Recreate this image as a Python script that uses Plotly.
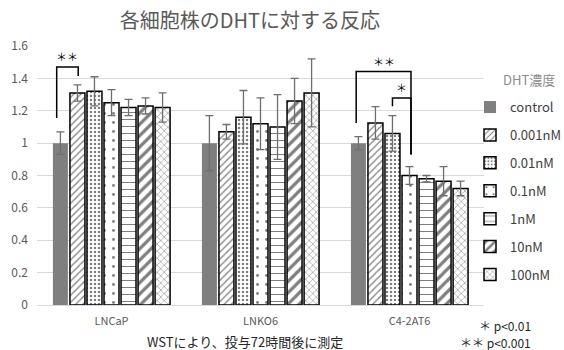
import plotly.graph_objects as go

cells = ["LNCaP", "LNKO6", "C4-2AT6"]
doses = ["control", "0.001nM", "0.01nM", "0.1nM", "1nM", "10nM", "100nM"]
values = {
    "control": [1.00, 1.00, 1.00],
    "0.001nM": [1.31, 1.07, 1.125],
    "0.01nM": [1.32, 1.16, 1.06],
    "0.1nM": [1.25, 1.12, 0.80],
    "1nM": [1.22, 1.10, 0.78],
    "10nM": [1.23, 1.26, 0.765],
    "100nM": [1.22, 1.31, 0.72],
}
errors = {
    "control": [0.07, 0.17, 0.04],
    "0.001nM": [0.05, 0.045, 0.10],
    "0.01nM": [0.09, 0.165, 0.11],
    "0.1nM": [0.08, 0.16, 0.055],
    "1nM": [0.05, 0.20, 0.02],
    "10nM": [0.05, 0.14, 0.09],
    "100nM": [0.09, 0.21, 0.045],
}
yticks = [0, 0.2, 0.4, 0.6, 0.8, 1.0, 1.2, 1.4, 1.6]
yticklabels = ["0", "0.2", "0.4", "0.6", "0.8", "1", "1.2", "1.4", "1.6"]

patterns = {
    "control": None,
    "0.001nM": dict(shape="/", size=5, solidity=0.25),
    "0.01nM": dict(shape=".", size=4, solidity=0.3),
    "0.1nM": dict(shape=".", size=9, solidity=0.08),
    "1nM": dict(shape="-", size=7, solidity=0.15),
    "10nM": dict(shape="/", size=8, solidity=0.4),
    "100nM": dict(shape="x", size=5, solidity=0.2),
}

FONT = "Noto Sans CJK JP"
xs = list(range(len(cells)))
fig = go.Figure()
for d in doses:
    p = patterns[d]
    if p is None:
        marker = dict(color="#7f7f7f", line=dict(color="#7f7f7f", width=0))
    else:
        marker = dict(color="white", line=dict(color="black", width=1.5),
                      pattern=dict(shape=p["shape"], size=p["size"], solidity=p["solidity"],
                                   fgcolor="black", bgcolor="white", fillmode="overlay"))
    fig.add_trace(go.Bar(
        x=xs, y=values[d], name=d, marker=marker, legendgroup=d,
        error_y=dict(type="data", array=errors[d], visible=True, color="#6e6e6e",
                     thickness=1.3, width=4),
    ))

ngroups = len(doses)
groupw = 0.8


def off(i):
    return -groupw / 2 + (i + 0.5) * groupw / ngroups


def bracket(x0, x1, ytop, y0, y1):
    fig.add_shape(type="path",
                  path=f"M {x0} {y0} L {x0} {ytop} L {x1} {ytop} L {x1} {y1}",
                  line=dict(color="black", width=1.5), xref="x", yref="y")


bracket(0 + off(0) - 0.025, 0 + off(1) + 0.005, 1.47, 1.155, 1.415)
bracket(2 + off(0) - 0.015, 2 + off(3) + 0.01, 1.442, 1.125, 0.93)
bracket(2 + off(2), 2 + off(3) + 0.01, 1.278, 1.228, 0.93)

star_font = dict(family=FONT, size=11, color="black")
fig.add_annotation(x=(off(0) + off(1)) / 2 - 0.01, y=1.475, text="＊＊", showarrow=False,
                   yanchor="bottom", font=star_font)
fig.add_annotation(x=2 + (off(0) + off(3)) / 2, y=1.447, text="＊＊", showarrow=False,
                   yanchor="bottom", font=star_font)
fig.add_annotation(x=2 + (off(2) + off(3)) / 2 + 0.005, y=1.283, text="＊", showarrow=False,
                   yanchor="bottom", font=star_font)

note_font = dict(family=FONT, size=13, color="#262626")
p_font = dict(family=FONT, size=12, color="#262626")
fig.add_annotation(xref="paper", yref="paper", x=0.465, y=-0.139, text="WSTにより、投与72時間後に測定",
                   showarrow=False, font=note_font, yanchor="middle")
fig.add_annotation(xref="paper", yref="paper", x=1.11, y=-0.079, text="＊ p<0.01", xanchor="right",
                   showarrow=False, font=p_font, yanchor="middle")
fig.add_annotation(xref="paper", yref="paper", x=1.11, y=-0.143, text="＊＊ p<0.001", xanchor="right",
                   showarrow=False, font=p_font, yanchor="middle")
fig.add_annotation(xref="paper", yref="paper", x=1.038, y=0.869, text="DHT濃度", xanchor="left",
                   showarrow=False, font=dict(family=FONT, size=13, color="#8c8c8c"), yanchor="middle")

fig.update_layout(
    width=564, height=350,
    margin=dict(l=37, r=80, t=46, b=45, autoexpand=False),
    paper_bgcolor="white", plot_bgcolor="white",
    barmode="group", bargap=0.2, bargroupgap=0.12,
    title=dict(text="各細胞株のDHTに対する反応", x=0.443, xanchor="center", y=0.94, yanchor="middle",
               font=dict(family=FONT, size=20, color="#595959")),
    font=dict(family=FONT, color="#595959"),
    xaxis=dict(range=[-0.5, 2.5], tickvals=xs, ticktext=cells, showgrid=False,
               showline=True, linecolor="#d9d9d9", linewidth=1, ticks="", ticklabelstandoff=6,
               tickfont=dict(family=FONT, size=11, color="#595959")),
    yaxis=dict(range=[0, 1.6], tickvals=yticks, ticktext=yticklabels, showgrid=True,
               gridcolor="#d9d9d9", gridwidth=1, zeroline=False, ticks="", ticklabelstandoff=8,
               tickfont=dict(family=FONT, size=12, color="#595959")),
    legend=dict(x=0.9687, y=0.822, xanchor="left", yanchor="top", tracegroupgap=8,
                font=dict(family=FONT, size=13, color="#404040"),
                bgcolor="rgba(0,0,0,0)", itemwidth=30),
)

fig.write_html("out.html")
